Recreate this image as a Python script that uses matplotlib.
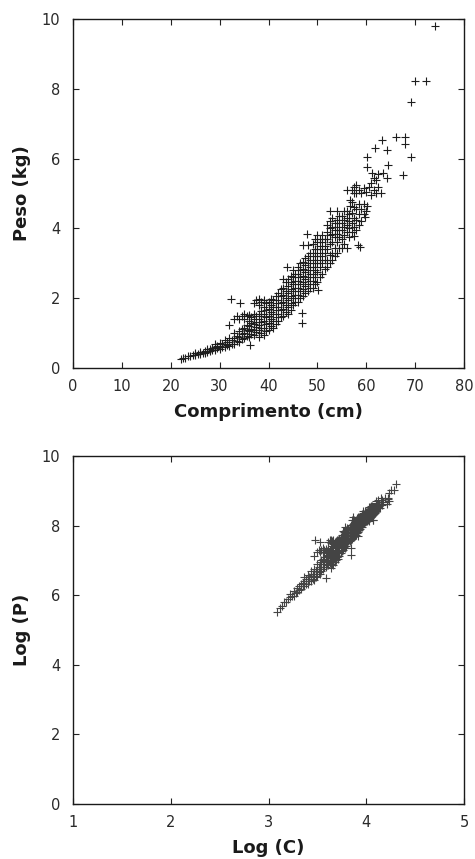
import numpy as np
import matplotlib
matplotlib.use("Agg")
import matplotlib.pyplot as plt

# --- data: length (cm) and weight (kg), one line per length class ---
comprimento_cm = [
    22, 22.5,
    23, 23.5,
    24, 24.5,
    25, 25.5, 25,
    26, 26.5, 26,
    27, 27.5, 27, 27.5,
    28, 28.5, 28, 28.5,
    29, 29.5, 29, 29.5, 29,
    30, 30.5, 30, 30.5, 30,
    31, 31.5, 31, 31.5, 31,
    32, 32.5, 32, 32.5, 32, 32, 32.4,
    33, 33.5, 33, 33.5, 33, 33, 33.5,
    34, 34.5, 34, 34.5, 34, 34.5, 34, 34.5, 34.1,
    35, 35.5, 35, 35.5, 35, 35.5, 35, 35.5, 35,
    36.2, 36, 36.5, 36, 36.5, 36, 36.5, 36, 36.5, 36,
    37, 37.5, 37, 37.5, 37, 37.5, 37, 37.5, 37, 37, 37.5,
    38, 38.5, 38, 38.5, 38, 38.5, 38, 38.5, 38, 38.5, 38, 38.5, 38,
    39, 39.5, 39, 39.5, 39, 39.5, 39, 39.5, 39, 39.5, 39,
    40, 40.5, 40, 40.5, 40, 40.5, 40, 40.5, 40, 40.5,
    41, 41.5, 41, 41.5, 41, 41.5, 41, 41.5, 41, 41.5,
    42, 42.5, 42, 42.5, 42, 42.5, 42, 42.5, 42, 42.5,
    43, 43.5, 43, 43.5, 43, 43.5, 43, 43.5, 43, 43.5, 43,
    44, 44.5, 44, 44.5, 44, 44.5, 44, 44.5, 44, 44.5, 44, 44.5, 43.7,
    45, 45.5, 45, 45.5, 45, 45.5, 45, 45.5, 45, 45.5, 45,
    46, 46.5, 46, 46.5, 46, 46.5, 46, 46.5, 46, 46.5, 46, 46.5,
    46.8, 46.8, 47, 47.5, 47, 47.5, 47, 47.5, 47, 47.5, 47, 47.5, 47, 47.5, 47.1,
    48, 48.5, 48, 48.5, 48, 48.5, 48, 48.5, 48, 48.5, 48, 48.5, 48, 47.8,
    49, 49.5, 49, 49.5, 49, 49.5, 49, 49.5, 49, 49.5, 49, 49.5, 49, 49.5,
    50.2, 50, 50.5, 50, 50.5, 50, 50.5, 50, 50.5, 50, 50.5, 50, 50.5, 50,
    51, 51.5, 51, 51.5, 51, 51.5, 51, 51.5, 51, 51.5, 51,
    52, 52.5, 52, 52.5, 52, 52.5, 52, 52.5, 52, 52.5, 52, 52.5,
    53, 53.5, 53, 53.5, 53, 53.5, 53, 53.5, 53, 53.5, 53, 52.6,
    54, 54.5, 54, 54.5, 54, 54.5, 54, 54.5, 54, 54.5, 54,
    55, 55.5, 55, 55.5, 55, 55.5, 55, 55.5, 55, 55.5,
    56, 56.5, 56, 56.5, 56, 56.5, 56, 56.5, 56, 56.6, 56.6, 56,
    57.4, 57, 57.5, 57, 57.5, 57, 57.5, 57, 57.5, 57, 57.5,
    58.4, 58, 58.5, 58, 58.5, 58, 58.5, 58, 58.5, 58,
    58.7, 59, 59.5, 59, 59.5, 59, 59.5,
    59.8, 60, 60.1, 60, 60.5, 60.1, 60.1,
    61, 61.5, 61, 61.5, 61.1,
    62, 62.5, 62, 62.5, 61.8,
    63, 63.5, 63.2,
    64.2, 64.5, 64.2,
    66.1,
    67.6,
    68, 68,
    69.2, 69.2,
    70,
    72.2,
    74.1,
]
peso_kg = [
    0.25, 0.28,
    0.30, 0.33,
    0.33, 0.36,
    0.38, 0.40, 0.42,
    0.40, 0.43, 0.46,
    0.44, 0.47, 0.50, 0.53,
    0.48, 0.52, 0.55, 0.58,
    0.52, 0.56, 0.60, 0.64, 0.68,
    0.55, 0.60, 0.64, 0.68, 0.72,
    0.60, 0.65, 0.70, 0.75, 0.80,
    0.62, 0.68, 0.74, 0.80, 0.86, 1.23, 1.98,
    0.70, 0.78, 0.85, 0.92, 1.00, 1.40, 1.48,
    0.75, 0.82, 0.90, 0.98, 1.05, 1.12, 1.40, 1.48, 1.86,
    0.85, 0.92, 1.00, 1.08, 1.15, 1.22, 1.40, 1.48, 1.55,
    0.66, 0.90, 0.98, 1.05, 1.12, 1.20, 1.28, 1.36, 1.45, 1.52,
    0.95, 1.02, 1.10, 1.18, 1.25, 1.32, 1.40, 1.48, 1.56, 1.85, 1.95,
    0.88, 1.00, 1.08, 1.16, 1.24, 1.32, 1.40, 1.48, 1.56, 1.64, 1.80, 1.90, 1.98,
    0.95, 1.05, 1.15, 1.25, 1.35, 1.45, 1.55, 1.65, 1.75, 1.85, 1.95,
    1.10, 1.20, 1.30, 1.40, 1.50, 1.60, 1.70, 1.80, 1.90, 1.98,
    1.15, 1.25, 1.35, 1.45, 1.55, 1.65, 1.75, 1.85, 1.95, 2.05,
    1.35, 1.45, 1.55, 1.65, 1.75, 1.85, 1.95, 2.05, 2.15, 2.25,
    1.50, 1.60, 1.70, 1.80, 1.90, 2.00, 2.10, 2.20, 2.30, 2.45, 2.55,
    1.55, 1.65, 1.75, 1.85, 1.95, 2.05, 2.15, 2.25, 2.35, 2.45, 2.55, 2.65, 2.90,
    1.80, 1.90, 2.00, 2.10, 2.20, 2.30, 2.40, 2.50, 2.60, 2.70, 2.80,
    1.90, 2.00, 2.10, 2.20, 2.30, 2.40, 2.50, 2.60, 2.70, 2.80, 2.90, 3.00,
    1.28, 1.57, 2.05, 2.15, 2.25, 2.35, 2.45, 2.55, 2.65, 2.75, 2.85, 2.95, 3.05, 3.15, 3.52,
    2.20, 2.30, 2.40, 2.50, 2.60, 2.70, 2.80, 2.90, 3.00, 3.10, 3.20, 3.30, 3.52, 3.85,
    2.30, 2.40, 2.50, 2.60, 2.70, 2.80, 2.90, 3.00, 3.10, 3.20, 3.30, 3.40, 3.55, 3.70,
    2.23, 2.45, 2.60, 2.75, 2.90, 3.00, 3.10, 3.20, 3.30, 3.40, 3.50, 3.60, 3.70, 3.80,
    2.70, 2.85, 3.00, 3.10, 3.20, 3.30, 3.40, 3.50, 3.60, 3.70, 3.80,
    2.90, 3.00, 3.10, 3.25, 3.40, 3.55, 3.70, 3.80, 3.90, 4.00, 4.10, 4.20,
    3.10, 3.20, 3.30, 3.45, 3.60, 3.75, 3.85, 3.95, 4.05, 4.15, 4.30, 4.50,
    3.30, 3.45, 3.60, 3.75, 3.85, 3.95, 4.05, 4.15, 4.25, 4.35, 4.50,
    3.43, 3.55, 3.70, 3.80, 3.95, 4.05, 4.15, 4.25, 4.35, 4.50,
    3.45, 3.75, 3.90, 4.00, 4.10, 4.20, 4.30, 4.40, 4.50, 4.65, 4.80, 5.10,
    3.77, 3.90, 4.05, 4.15, 4.30, 4.45, 4.60, 4.75, 5.00, 5.10, 5.20,
    3.53, 3.95, 4.10, 4.25, 4.40, 4.55, 4.70, 5.00, 5.10, 5.25,
    3.48, 4.20, 4.40, 4.55, 4.70, 5.00, 5.15,
    4.33, 4.50, 4.63, 5.05, 5.20, 5.77, 6.05,
    4.95, 5.10, 5.30, 5.45, 5.58,
    5.00, 5.20, 5.40, 5.55, 6.30,
    5.02, 5.60, 6.54,
    5.43, 5.82, 6.25,
    6.63,
    5.52,
    6.42, 6.63,
    6.04, 7.63,
    8.22,
    8.22,
    9.81,
]

x_ticks_top = [0, 10, 20, 30, 40, 50, 60, 70, 80]
y_ticks_top = [0, 2, 4, 6, 8, 10]
x_ticks_bot = [1, 2, 3, 4, 5]
y_ticks_bot = [0, 2, 4, 6, 8, 10]

C = np.array(comprimento_cm, dtype=float)
P = np.array(peso_kg, dtype=float)
log_C = np.log(C)              # natural log of length (cm)
log_P = np.log(P * 1000.0)     # natural log of weight (g)

fig = plt.figure(figsize=(4.75, 8.59), dpi=100)
fig.patch.set_facecolor("white")

ax1 = fig.add_axes([0.1537, 0.5716, 0.8232, 0.4063])
ax2 = fig.add_axes([0.1537, 0.0640, 0.8232, 0.4051])

tick_color = "#2a2a2a"


def style(ax, xt, yt, xlabel, ylabel):
    ax.set_xticks(xt)
    ax.set_yticks(yt)
    ax.tick_params(axis="both", direction="in", length=4, width=0.8,
                   top=True, right=True, labelsize=10.5,
                   labelcolor=tick_color, color="#222222")
    ax.tick_params(axis="x", pad=8)
    ax.tick_params(axis="y", pad=9)
    for s in ax.spines.values():
        s.set_linewidth(1.0)
        s.set_color("#1a1a1a")
    ax.set_xlabel(xlabel, fontsize=13, fontweight="bold", color="#1a1a1a")
    ax.set_ylabel(ylabel, fontsize=13, fontweight="bold", color="#1a1a1a")
    ax.xaxis.set_label_coords(0.5, -0.126)
    ax.xaxis.label.set_va("center")
    ax.yaxis.set_label_coords(-0.13, 0.5)
    ax.yaxis.label.set_va("center")


ax1.plot(C, P, linestyle="none", marker="+", markersize=5.5,
         markeredgewidth=0.8, color="#1e1e1e")
ax1.set_xlim(0, 80)
ax1.set_ylim(0, 10)
style(ax1, x_ticks_top, y_ticks_top, "Comprimento (cm)", "Peso (kg)")

ax2.plot(log_C, log_P, linestyle="none", marker="+", markersize=5.5,
         markeredgewidth=0.8, color="#444444")
ax2.set_xlim(1, 5)
ax2.set_ylim(0, 10)
style(ax2, x_ticks_bot, y_ticks_bot, "Log (C)", "Log (P)")

fig.savefig("out.png", dpi=100, facecolor="white")
